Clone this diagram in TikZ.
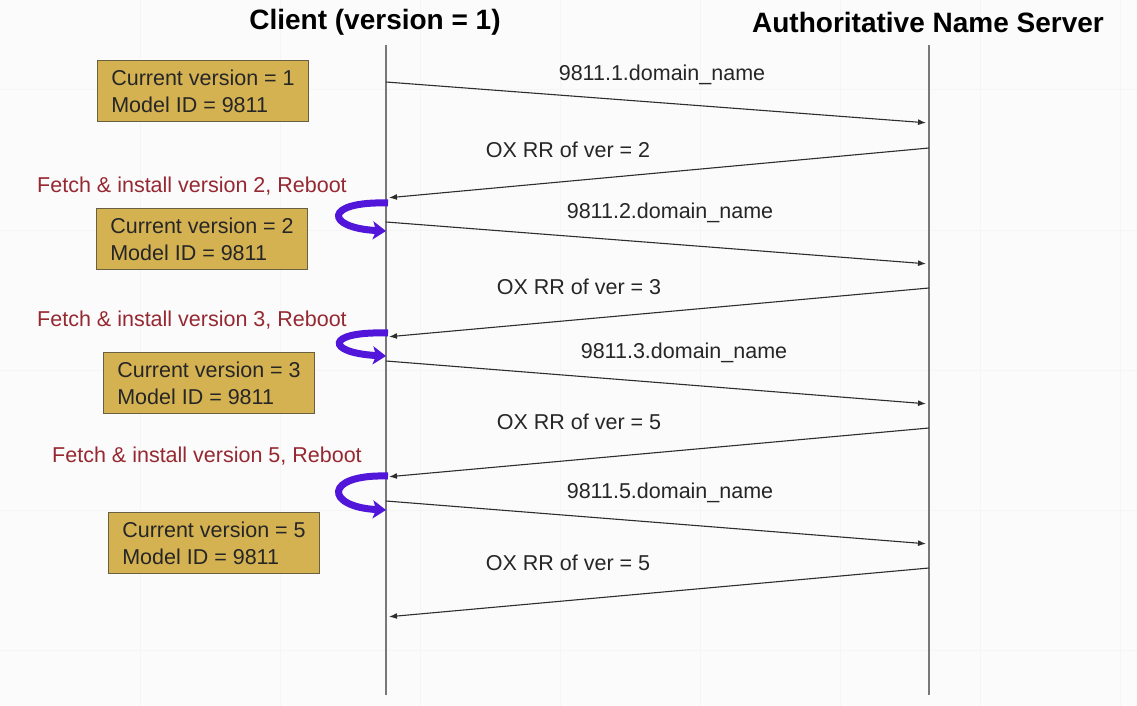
\documentclass[tikz,border=0pt]{standalone}
\usepackage{fontspec}
\setmainfont{Liberation Sans}
\usetikzlibrary{arrows.meta}
\definecolor{bg}{RGB}{251,251,251}
\definecolor{boxfill}{RGB}{212,178,82}
\definecolor{boxdraw}{RGB}{105,95,65}
\definecolor{lifeline}{RGB}{120,120,120}
\definecolor{msg}{RGB}{45,45,45}
\definecolor{fetchred}{RGB}{150,40,50}
\definecolor{reboot}{RGB}{82,22,218}
\tikzset{
  title/.style={font=\fontsize{28}{32}\selectfont\bfseries, text=black, inner sep=0pt},
  life/.style={draw=lifeline, line width=1.4pt},
  msgarrow/.style={draw=msg, line width=1.1pt, -{Latex[length=8pt,width=6pt]}, shorten >=3pt},
  msglabel/.style={font=\fontsize{21.5}{25}\selectfont, text=black!85, inner sep=0pt},
  statebox/.style={draw=boxdraw, fill=boxfill, line width=1pt, minimum width=211pt, minimum height=61pt,
    align=left, font=\fontsize{21.5}{27}\selectfont, text=black!85, anchor=north west, inner sep=0pt},
  fetch/.style={font=\fontsize{21.5}{25}\selectfont, text=fetchred, inner sep=0pt},
  rebootarrow/.style={draw=reboot, line width=7pt, -{Stealth[length=13pt,width=18pt,inset=3pt]}}
}
\begin{document}
\begin{tikzpicture}[x=1pt,y=-1pt]
\fill[bg] (0,0) rectangle (1137,706);
\useasboundingbox (0,0) rectangle (1137,706);
% faint grid
\foreach \gx in {140,280,420,560,700,840,980,1120}{\draw[black!4, line width=1pt] (\gx,0) -- (\gx,706);}
\foreach \gy in {90,230,370,510,650}{\draw[black!4, line width=1pt] (0,\gy) -- (1137,\gy);}

% titles
\node[title] (tc) at (375,22) {Client (version = 1)};
\node[title] (ts) at (928,22) {Authoritative Name Server};

% lifelines
\coordinate (ctop) at (386,45);
\coordinate (cbot) at (386,695);
\coordinate (stop) at (929,45);
\coordinate (sbot) at (929,695);
\draw[life] (ctop) -- (cbot);
\draw[life] (stop) -- (sbot);

% message endpoints
\coordinate (c1) at (386,82);  \coordinate (s1) at (929,123);
\coordinate (s2) at (929,148); \coordinate (c2) at (386,198);
\coordinate (c3) at (386,222); \coordinate (s3) at (929,264);
\coordinate (s4) at (929,288); \coordinate (c4) at (386,337);
\coordinate (c5) at (386,361); \coordinate (s5) at (929,404);
\coordinate (s6) at (929,428); \coordinate (c6) at (386,477);
\coordinate (c7) at (386,501); \coordinate (s7) at (929,544);
\coordinate (s8) at (929,568); \coordinate (c8) at (386,617);

\draw[msgarrow] (c1) -- (s1);
\draw[msgarrow] (s2) -- (c2);
\draw[msgarrow] (c3) -- (s3);
\draw[msgarrow] (s4) -- (c4);
\draw[msgarrow] (c5) -- (s5);
\draw[msgarrow] (s6) -- (c6);
\draw[msgarrow] (c7) -- (s7);
\draw[msgarrow] (s8) -- (c8);

% message labels
\node[msglabel] (l1) at (662,75)  {9811.1.domain\_name};
\node[msglabel] (l2) at (568,150) {OX RR of ver = 2};
\node[msglabel] (l3) at (670,213) {9811.2.domain\_name};
\node[msglabel] (l4) at (579,287) {OX RR of ver = 3};
\node[msglabel] (l5) at (684,353) {9811.3.domain\_name};
\node[msglabel] (l6) at (579,422) {OX RR of ver = 5};
\node[msglabel] (l7) at (670,493) {9811.5.domain\_name};
\node[msglabel] (l8) at (568,563) {OX RR of ver = 5};

% state boxes
\node[statebox] (b1) at (97,60)  {Current version = 1\\Model ID = 9811};
\node[statebox] (b2) at (96,208) {Current version = 2\\Model ID = 9811};
\node[statebox] (b3) at (103,352) {Current version = 3\\Model ID = 9811};
\node[statebox] (b4) at (108,512) {Current version = 5\\Model ID = 9811};

% fetch labels
\node[fetch] (f2) at (192,186) {Fetch \& install version 2, Reboot};
\node[fetch] (f3) at (192,320) {Fetch \& install version 3, Reboot};
\node[fetch] (f5) at (207,456) {Fetch \& install version 5, Reboot};

% reboot arrows
\coordinate (r2a) at (388,203); \coordinate (r2b) at (386,231);
\coordinate (r3a) at (388,333); \coordinate (r3b) at (386,356);
\coordinate (r5a) at (388,476); \coordinate (r5b) at (386,510);
\draw[rebootarrow] (r2a) .. controls (323,201) and (325,228) .. (r2b);
\draw[rebootarrow] (r3a) .. controls (324,331) and (326,353) .. (r3b);
\draw[rebootarrow] (r5a) .. controls (323,474) and (325,507) .. (r5b);
\end{tikzpicture}
\end{document}
